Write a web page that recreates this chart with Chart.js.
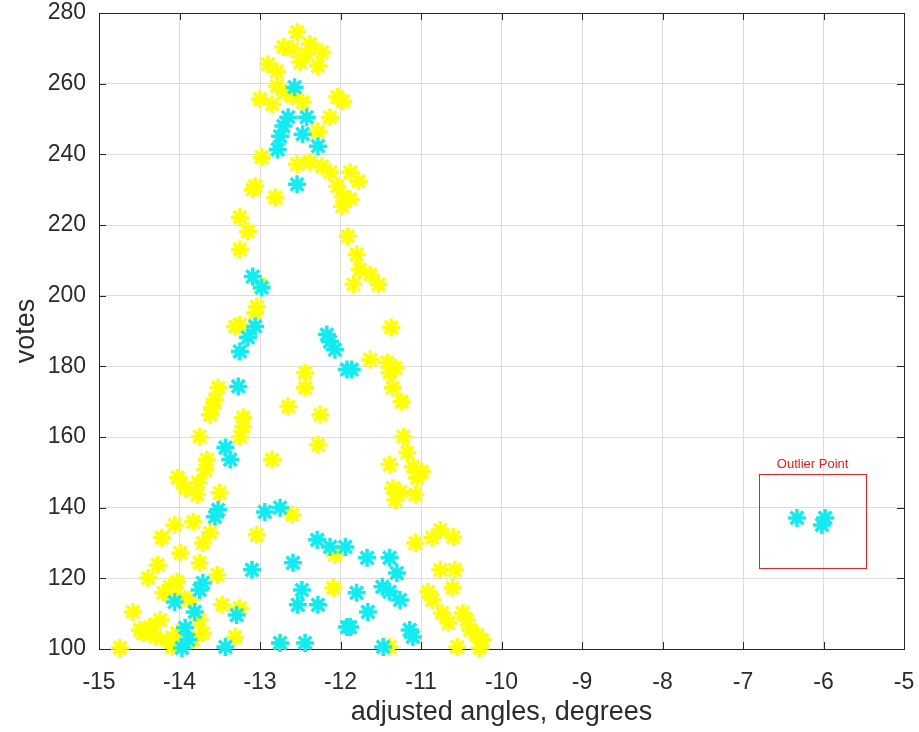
<!DOCTYPE html>
<html>
<head>
<meta charset="utf-8">
<script src="https://cdn.jsdelivr.net/npm/chart.js@4.4.0/dist/chart.umd.min.js"></script>
<style>
html,body{margin:0;padding:0;background:#ffffff;}
#wrap{width:919px;height:732px;}
</style>
</head>
<body>
<div id="wrap"><canvas id="c" width="919" height="732"></canvas></div>
<script>
// ---- data ----
const yellowX = [-12.54,-12.71,-12.60,-12.38,-12.42,-12.23,-12.50,-12.28,-12.90,-12.79,-12.79,-12.69,-13.00,-12.85,-12.47,-12.60,-12.04,-11.97,-12.13,-12.28,
  -12.98,-12.54,-12.38,-12.23,-12.13,-11.88,-11.78,-12.04,-11.97,-11.98,-11.88,-13.06,-13.09,-12.81,-13.25,-13.15,-13.25,-13.00,-13.04,-13.06,
  -13.31,-13.25,-11.91,-11.80,-11.76,-11.63,-11.53,-11.84,-11.37,-11.63,-11.42,-11.32,-11.39,-11.35,-11.24,-12.44,-12.44,-12.65,-12.25,-13.52,
  -13.56,-13.60,-13.21,-13.62,-12.28,-13.75,-13.21,-13.25,-12.85,-13.66,-13.68,-14.02,-13.93,-13.78,-13.50,-13.77,-12.60,-13.04,-13.83,-14.06,
  -14.22,-13.62,-13.71,-13.99,-14.27,-14.39,-14.03,-13.53,-13.75,-12.07,-12.09,-14.12,-14.20,-13.99,-13.87,-14.58,-13.47,-13.25,-14.37,-14.24,
  -14.45,-14.30,-14.16,-14.03,-13.75,-13.71,-13.83,-14.49,-13.31,-14.74,-14.09,-12.75,-11.22,-11.17,-11.39,-11.10,-10.99,-11.05,-11.35,-11.26,
  -11.32,-11.07,-11.39,-11.07,-10.86,-10.76,-10.60,-10.76,-10.58,-10.61,-10.91,-10.86,-10.74,-10.66,-10.48,-10.43,-10.39,-10.30,-10.24,-10.55,-10.27];
const yellowY = [274.6,270.4,269.8,271.2,268.4,268.9,266.1,265.0,265.5,263.5,259.3,257.6,255.6,254.2,254.8,256.5,256.2,255.0,250.5,246.5,
  239.2,237.2,237.8,236.6,234.9,234.9,232.4,231.0,228.1,225.3,227.3,231.0,230.1,227.8,222.2,218.2,213.1,203.2,196.9,195.2,
  191.3,191.8,216.8,211.7,207.4,206.0,203.2,203.2,191.0,181.9,181.1,179.6,178.2,174.0,170.0,178.2,174.0,168.6,166.3,174.0,
  170.6,168.3,165.5,166.3,157.8,160.1,162.9,160.1,153.6,153.6,150.7,148.5,145.6,143.7,144.2,147.1,138.0,132.3,136.0,135.1,
  131.5,132.9,130.0,127.2,123.8,120.1,119.0,121.0,124.4,126.6,117.3,117.6,115.9,114.7,113.9,110.5,112.5,111.6,106.2,108.2,
  104.5,103.4,102.6,104.5,108.2,104.5,102.6,105.4,103.4,100.3,100.6,101.7,160.1,155.6,152.2,151.6,150.2,148.5,145.6,144.5,
  142.2,143.7,100.6,130.0,131.5,133.7,131.7,122.4,122.4,117.3,116.2,113.9,110.2,107.4,110.2,108.2,105.4,104.0,102.6,100.6,100.3];
const cyanX = [-12.57,-12.65,-12.71,-12.75,-12.78,-12.42,-12.47,-12.28,-12.54,-13.09,-12.98,-13.06,-13.15,-13.25,-12.17,-12.13,-12.07,-11.92,-11.86,-13.27,
  -13.43,-13.37,-13.52,-13.56,-12.94,-12.75,-12.29,-12.13,-11.94,-12.59,-13.10,-12.48,-12.53,-12.28,-13.71,-13.75,-14.06,-13.81,-13.29,-13.93,
  -13.89,-13.97,-13.43,-12.75,-12.44,-11.92,-11.67,-11.39,-11.30,-11.48,-11.39,-11.26,-11.80,-11.66,-11.88,-11.14,-11.10,-11.47,
  -6.33,-5.98,-6.02];
const cyanY = [259.0,250.5,248.0,245.1,241.4,250.5,245.7,242.3,231.5,205.4,202.3,191.3,188.2,184.2,189.0,187.0,184.7,179.1,179.1,174.3,
  157.0,153.6,139.4,137.4,138.8,140.0,130.9,128.9,128.9,124.4,122.4,116.7,112.5,112.5,118.7,116.7,113.3,110.5,109.6,106.0,
  102.6,100.3,100.6,101.7,101.7,106.2,125.8,125.8,121.5,117.6,116.2,113.9,115.9,110.5,106.2,105.4,103.4,100.6,
  137.1,137.1,135.1];
const xTickValues = [-15,-14,-13,-12,-11,-10,-9,-8,-7,-6,-5];
const yTickValues = [100,120,140,160,180,200,220,240,260,280];
const xAxisTitle = 'adjusted angles, degrees';
const yAxisTitle = 'votes';
const outlierLabel = 'Outlier Point';
const outlierBoxX = [-6.80, -5.47];
const outlierBoxY = [122.9, 149.5];

// ---- build ----
const toPoints = (xs, ys) => xs.map((x, i) => ({x: x, y: ys[i]}));
const FONT = "'Liberation Sans', Arial, Helvetica, sans-serif";
const TEXT = '#2b2b2b';

const framePlugin = {
  id: 'frame',
  beforeDatasetsDraw(chart) {
    const {ctx, chartArea: a, scales} = chart;
    ctx.save();
    ctx.strokeStyle = '#262626';
    ctx.lineWidth = 1;
    ctx.beginPath();
    const tl = 7;
    scales.x.ticks.forEach(t => {
      const px = Math.round(scales.x.getPixelForValue(t.value)) + 0.5;
      ctx.moveTo(px, a.bottom); ctx.lineTo(px, a.bottom - tl);
      ctx.moveTo(px, a.top); ctx.lineTo(px, a.top + tl);
    });
    scales.y.ticks.forEach(t => {
      const py = Math.round(scales.y.getPixelForValue(t.value)) + 0.5;
      ctx.moveTo(a.left, py); ctx.lineTo(a.left + tl, py);
      ctx.moveTo(a.right, py); ctx.lineTo(a.right - tl, py);
    });
    ctx.stroke();
    ctx.strokeRect(Math.round(a.left) + 0.5, Math.round(a.top) + 0.5,
                   Math.round(a.right - a.left), Math.round(a.bottom - a.top));
    ctx.restore();
  },
  afterDatasetsDraw(chart) {
    const {ctx, scales} = chart;
    const x0 = scales.x.getPixelForValue(outlierBoxX[0]);
    const x1 = scales.x.getPixelForValue(outlierBoxX[1]);
    const y0 = scales.y.getPixelForValue(outlierBoxY[1]);
    const y1 = scales.y.getPixelForValue(outlierBoxY[0]);
    ctx.save();
    ctx.strokeStyle = 'rgb(214,40,40)';
    ctx.lineWidth = 1;
    ctx.strokeRect(Math.round(x0) + 0.5, Math.round(y0) + 0.5, Math.round(x1 - x0), Math.round(y1 - y0));
    ctx.fillStyle = 'rgb(220,30,30)';
    ctx.font = "13px " + FONT;
    ctx.textAlign = 'center';
    ctx.textBaseline = 'alphabetic';
    ctx.fillText(outlierLabel, (x0 + x1) / 2, y0 - 6);
    ctx.restore();
  }
};

new Chart(document.getElementById('c'), {
  type: 'scatter',
  data: {
    datasets: [
      {
        label: 'yellow',
        data: toPoints(yellowX, yellowY),
        pointStyle: 'star',
        radius: 9,
        borderWidth: 3.5,
        borderColor: 'rgb(255,255,0)',
        backgroundColor: 'rgb(255,255,0)',
        order: 2,
        clip: false
      },
      {
        label: 'cyan',
        data: toPoints(cyanX, cyanY),
        pointStyle: 'star',
        radius: 9,
        borderWidth: 3.5,
        borderColor: 'rgb(20,235,240)',
        backgroundColor: 'rgb(20,235,240)',
        order: 1,
        clip: false
      }
    ]
  },
  options: {
    responsive: false,
    animation: false,
    devicePixelRatio: 1,
    layout: {padding: {top: 0, right: 0, left: 0, bottom: 0}},
    plugins: {legend: {display: false}, tooltip: {enabled: false}},
    scales: {
      x: {
        type: 'linear',
        min: -15, max: -5,
        afterBuildTicks(scale) { scale.ticks = xTickValues.map(v => ({value: v})); },
        afterFit(scale) { scale.height = 83; scale.paddingLeft = 0; scale.paddingRight = 15; },
        grid: {color: '#dcdcdc', lineWidth: 1, drawTicks: false},
        border: {display: false},
        ticks: {
          color: TEXT, padding: 20, maxRotation: 0, autoSkip: false,
          font: {family: FONT, size: 23},
          callback: v => String(v)
        },
        title: {display: true, text: xAxisTitle, color: TEXT,
                font: {family: FONT, size: 27}, padding: {top: 0, bottom: 3}}
      },
      y: {
        type: 'linear',
        min: 100, max: 280,
        afterBuildTicks(scale) { scale.ticks = yTickValues.map(v => ({value: v})); },
        afterFit(scale) { scale.width = 99; scale.paddingTop = 13; scale.paddingBottom = 0; },
        grid: {color: '#dcdcdc', lineWidth: 1, drawTicks: false},
        border: {display: false},
        ticks: {
          color: TEXT, padding: 13, autoSkip: false,
          font: {family: FONT, size: 23},
          callback: v => String(v)
        },
        title: {display: true, text: yAxisTitle, color: TEXT,
                font: {family: FONT, size: 27}, padding: {top: 10, bottom: 0}}
      }
    }
  },
  plugins: [framePlugin]
});
</script>
</body>
</html>
